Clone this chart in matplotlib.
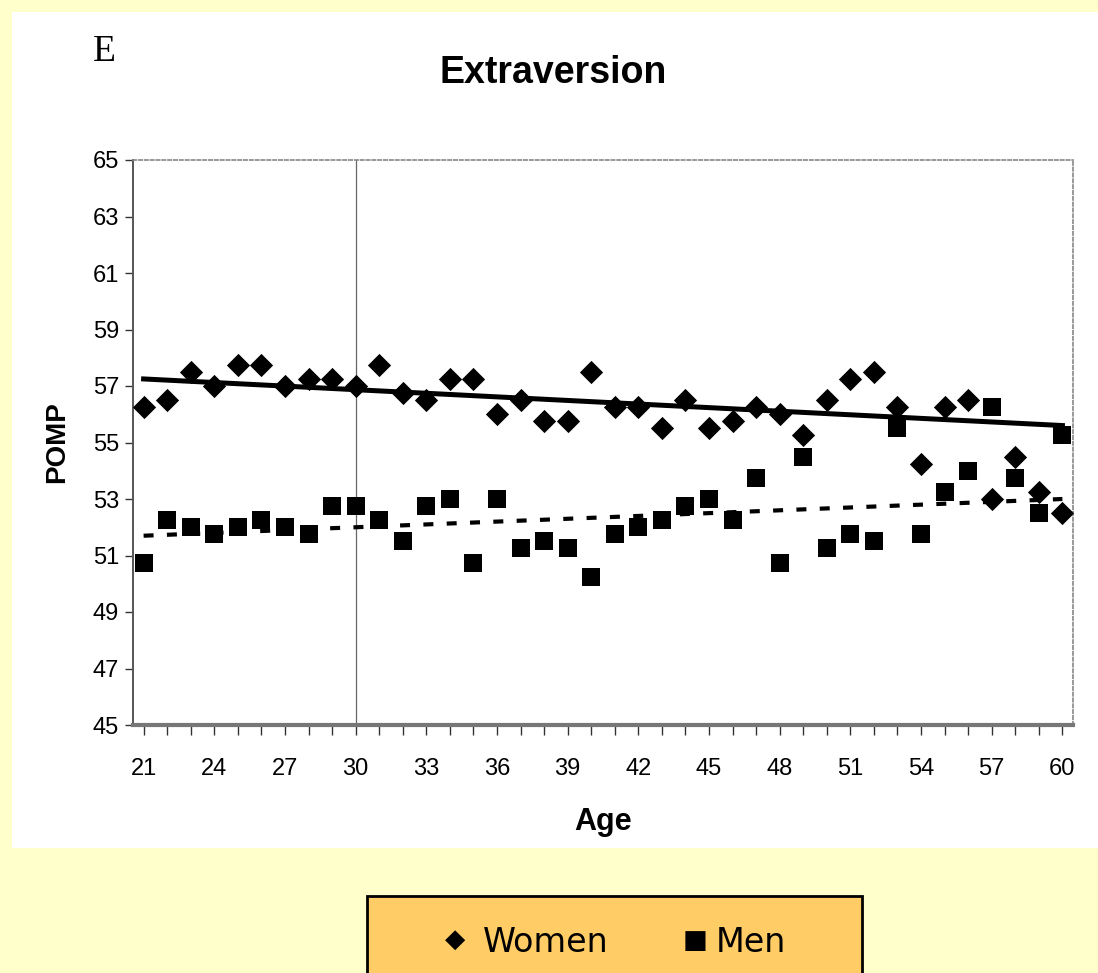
import numpy as np
import matplotlib
matplotlib.use("Agg")
import matplotlib.pyplot as plt
from matplotlib.patches import Rectangle
from matplotlib import font_manager

ages = list(range(21, 61))
women = [56.25, 56.5, 57.5, 57.0, 57.75, 57.75, 57.0, 57.25, 57.25, 57.0,
         57.75, 56.75, 56.5, 57.25, 57.25, 56.0, 56.5, 55.75, 55.75, 57.5,
         56.25, 56.25, 55.5, 56.5, 55.5, 55.75, 56.25, 56.0, 55.25, 56.5,
         57.25, 57.5, 56.25, 54.25, 56.25, 56.5, 53.0, 54.5, 53.25, 52.5]
men = [50.75, 52.25, 52.0, 51.75, 52.0, 52.25, 52.0, 51.75, 52.75, 52.75,
       52.25, 51.5, 52.75, 53.0, 50.75, 53.0, 51.25, 51.5, 51.25, 50.25,
       51.75, 52.0, 52.25, 52.75, 53.0, 52.25, 53.75, 50.75, 54.5, 51.25,
       51.75, 51.5, 55.5, 51.75, 53.25, 54.0, 56.25, 53.75, 52.5, 55.25]
# trend line end values (ages 21 and 60)
trend_ages = [21, 60]
women_trend = [57.25, 55.6]
men_trend = [51.7, 53.0]
x_tick_labels = [str(a) for a in range(21, 61, 3)]
y_ticks = list(range(45, 66, 2))

names = {f.name for f in font_manager.fontManager.ttflist}
narrow = "Liberation Sans Narrow" if "Liberation Sans Narrow" in names else "Liberation Sans"

W, H = 1098, 973
fig = plt.figure(figsize=(W / 100, H / 100), dpi=100)
fig.patch.set_facecolor("#FFFFCC")

# white panel behind the chart
fig.add_artist(Rectangle((12 / W, 1 - 848 / H), (W - 12) / W, (848 - 12) / H,
                         transform=fig.transFigure, facecolor="white",
                         edgecolor="none", zorder=0))

ax = fig.add_axes([133 / W, 1 - 725 / H, (1073 - 133) / W, (725 - 160) / H])
ax.set_facecolor("white")

x = np.array(ages, dtype=float)
ax.scatter(x, women, marker="D", s=140, color="black", zorder=3, linewidths=0)
ax.scatter(x, men, marker="s", s=170, color="black", zorder=3, linewidths=0)

# linear trends
ax.plot(trend_ages, women_trend, color="black", lw=3.6, zorder=2)
ax.plot(trend_ages, men_trend, color="black", lw=3.0, zorder=2,
        dashes=(2.4, 3.2))

ax.axvline(30, color="#666666", lw=0.9, zorder=1)

ax.set_xlim(20.55, 60.45)
ax.set_ylim(45, 65)
ax.set_yticks(y_ticks)
ax.set_yticklabels([str(v) for v in y_ticks], fontfamily=narrow, fontsize=17)
ax.set_xticks(range(21, 61, 3))
ax.set_xticklabels(x_tick_labels, fontfamily=narrow, fontsize=17)
ax.set_xticks(ages, minor=True)
ax.tick_params(axis="x", which="both", direction="out", length=7, width=1,
               pad=17, color="#333333")
ax.tick_params(axis="y", direction="out", length=6, width=1, pad=4,
               color="#333333")

for side in ("top", "right"):
    ax.spines[side].set_linestyle((0, (2, 1.5)))
    ax.spines[side].set_color("#888888")
    ax.spines[side].set_linewidth(1.2)
ax.spines["left"].set_color("#555555")
ax.spines["left"].set_linewidth(1.4)
ax.spines["bottom"].set_color("#777777")
ax.spines["bottom"].set_linewidth(3.0)

ax.set_xlabel("Age", fontfamily=narrow, fontsize=22, fontweight="bold",
              labelpad=19)
ax.set_ylabel("POMP", fontfamily=narrow, fontsize=20, fontweight="bold",
              labelpad=16)

fig.text(440 / W, 1 - 73 / H, "Extraversion", fontfamily=narrow,
         fontsize=27, fontweight="bold", va="center", ha="left")
fig.text(93 / W, 1 - 52 / H, "E", fontfamily="Liberation Serif",
         fontsize=27, va="center", ha="left")

# legend box
fig.add_artist(Rectangle((367 / W, 1 - 990 / H), (862 - 367) / W, (990 - 896) / H,
                         transform=fig.transFigure, facecolor="#FFCC66",
                         edgecolor="black", linewidth=2, zorder=1))
fig.text(445 / W, 1 - 940 / H, "◆", fontfamily="DejaVu Sans", fontsize=19,
         va="center", ha="left")
fig.text(483 / W, 1 - 942 / H, "Women", fontfamily="DejaVu Sans", fontsize=24,
         va="center", ha="left")
fig.text(683 / W, 1 - 941 / H, "■", fontfamily="DejaVu Sans", fontsize=19,
         va="center", ha="left")
fig.text(716 / W, 1 - 942 / H, "Men", fontfamily="DejaVu Sans", fontsize=24,
         va="center", ha="left")

fig.savefig("out.png", dpi=100, facecolor=fig.get_facecolor())
